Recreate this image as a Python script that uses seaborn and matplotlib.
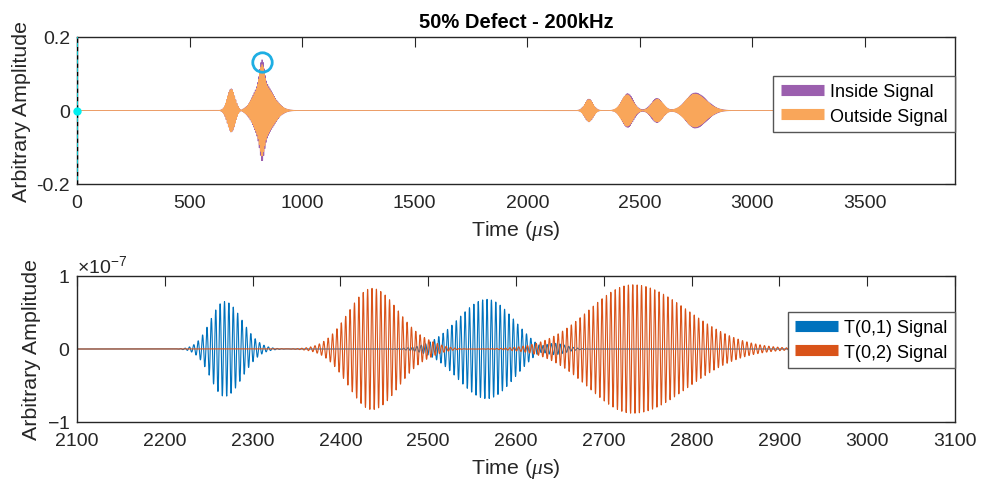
import numpy as np
import pandas as pd
import matplotlib
matplotlib.use("Agg")
import matplotlib.pyplot as plt
from matplotlib.lines import Line2D
from matplotlib.ticker import ScalarFormatter
import seaborn as sns

# ---------------- data ----------------
title = "50% Defect - 200kHz"
carrier_khz = 200.0

# Top panel: wave packets (centre in us, amplitude, left width, right width)
out_centres = [685, 822, 822, 2274, 2444, 2578, 2744]
out_amps = [0.058, 0.050, 0.075, 0.030, 0.043, 0.031, 0.045]
out_wl = [17, 10, 35, 18, 25, 25, 40]
out_wr = [17, 10, 45, 18, 25, 25, 50]

in_centres = [685, 822, 822, 2274, 2446, 2576, 2746]
in_amps = [0.059, 0.058, 0.080, 0.031, 0.046, 0.033, 0.048]
in_wl = [17, 10, 35, 18, 25, 25, 40]
in_wr = [17, 10, 45, 18, 25, 25, 50]

top_xticks = [0, 500, 1000, 1500, 2000, 2500, 3000, 3500]
top_yticks = [-0.2, 0, 0.2]
peak_marker = (822, 0.131)

# Bottom panel (amplitudes in units of 1e-7)
t01_centres = [2268, 2567, 2640]
t01_amps = [0.65, 0.68, 0.10]
t01_wl = [16, 33, 15]
t01_wr = [20, 30, 15]

t02_centres = [2436, 2733, 2500]
t02_amps = [0.83, 0.88, 0.06]
t02_wl = [27, 50, 15]
t02_wr = [31, 62, 15]

bot_xticks = [2100, 2200, 2300, 2400, 2500, 2600, 2700, 2800, 2900, 3000, 3100]
bot_yticks = [-1e-7, 0, 1e-7]


def packets(t, centres, amps, wl, wr, scale=1.0):
    y = np.zeros_like(t)
    f = carrier_khz * 1e-3  # cycles per microsecond
    for c, a, l, r in zip(centres, amps, wl, wr):
        w = np.where(t < c, l, r)
        env = a * np.exp(-((t - c) ** 2) / (2.0 * w ** 2))
        y += env * np.cos(2 * np.pi * f * (t - c))
    return y * scale


t_top = np.arange(0, 3900.0, 0.1)
y_out = packets(t_top, out_centres, out_amps, out_wl, out_wr)
y_in = packets(t_top, in_centres, in_amps, in_wl, in_wr)

t_bot = np.arange(2100, 3100.0, 0.05)
y_t01 = packets(t_bot, t01_centres, t01_amps, t01_wl, t01_wr, 1e-7)
y_t02 = packets(t_bot, t02_centres, t02_amps, t02_wl, t02_wr, 1e-7)

# ---------------- style ----------------
sns.set_theme(style="white")
plt.rcParams["font.family"] = ["Liberation Sans", "DejaVu Sans"]
plt.rcParams["axes.unicode_minus"] = False
plt.rcParams["mathtext.fontset"] = "custom"
plt.rcParams["mathtext.rm"] = "Liberation Sans"
plt.rcParams["mathtext.it"] = "Liberation Serif:italic"
txt = "#262626"
FS = 14
LFS = 15.4

purple = "#9B5FAE"
orange_light = "#F9A65A"
blue = "#0072BD"
orange = "#D95319"
cyan = "#1EAEE3"

fig = plt.figure(figsize=(9.82, 4.81), dpi=100)
ax1 = fig.add_axes([77 / 982, 1 - 185 / 481, 878 / 982, 147 / 481])
ax2 = fig.add_axes([77 / 982, 1 - 423 / 481, 878 / 982, 146 / 481])

# ---- top panel ----
sns.lineplot(x=t_top, y=y_in, ax=ax1, color=purple, lw=0.6, estimator=None, sort=False)
sns.lineplot(x=t_top, y=y_out, ax=ax1, color=orange_light, lw=0.6, estimator=None, sort=False)
ax1.axvline(0, color="#00E5EE", lw=1.2, zorder=5)
ax1.axvline(0, color="black", lw=1.0, ls=(0, (3, 3)), zorder=6)
ax1.plot([0], [0], "o", color="#00F0F0", ms=5, zorder=7, clip_on=False)
ax1.plot([peak_marker[0]], [peak_marker[1]], "o", mfc="none", mec=cyan, mew=2, ms=14, zorder=7)
ax1.set_xlim(0, 3900)
ax1.set_ylim(-0.2, 0.2)
ax1.set_xticks(top_xticks)
ax1.set_yticks(top_yticks)
ax1.set_yticklabels(["-0.2", "0", "0.2"])
ax1.set_title(title, fontsize=14.5, fontweight="bold", color="black", pad=7)
ax1.set_xlabel(r"Time ($\mu$s)", fontsize=LFS, color=txt, labelpad=5)
ax1.set_ylabel("Arbitrary Amplitude", fontsize=LFS, color=txt, labelpad=4)


def make_legend(ax, colors, labels, anchor_y):
    hs = [Line2D([], [], color=c, lw=8, solid_capstyle="butt") for c in colors]
    leg = ax.legend(hs, labels, loc="upper right", bbox_to_anchor=(1.0, anchor_y),
                    fontsize=13, frameon=True, fancybox=False, handlelength=2.4,
                    handletextpad=0.35, borderpad=0.4, labelspacing=0.42,
                    borderaxespad=0.0)
    fr = leg.get_frame()
    fr.set_edgecolor("#555555")
    fr.set_linewidth(1.0)
    fr.set_alpha(1.0)
    for t in leg.get_texts():
        t.set_color("black")
    return leg


make_legend(ax1, [purple, orange_light], ["Inside Signal", "Outside Signal"], 1 - 39 / 147)

# ---- bottom panel ----
sns.lineplot(x=t_bot, y=y_t01, ax=ax2, color=blue, lw=0.8, estimator=None, sort=False)
sns.lineplot(x=t_bot, y=y_t02, ax=ax2, color=orange, lw=0.8, estimator=None, sort=False)
ax2.set_xlim(2100, 3100)
ax2.set_ylim(-1e-7, 1e-7)
ax2.set_xticks(bot_xticks)
ax2.set_yticks(bot_yticks)
fmt = ScalarFormatter(useMathText=True)
fmt.set_powerlimits((0, 0))
ax2.yaxis.set_major_formatter(fmt)
ax2.yaxis.get_offset_text().set_fontsize(FS)
ax2.yaxis.get_offset_text().set_color(txt)
ax2.set_xlabel(r"Time ($\mu$s)", fontsize=LFS, color=txt, labelpad=5)
ax2.set_ylabel("Arbitrary Amplitude", fontsize=LFS, color=txt, labelpad=4)
make_legend(ax2, [blue, orange], ["T(0,1) Signal", "T(0,2) Signal"], 1 - 36 / 146)

for ax in (ax1, ax2):
    for s in ax.spines.values():
        s.set_visible(True)
        s.set_color(txt)
        s.set_linewidth(1.0)
    ax.tick_params(axis="both", direction="in", length=7, width=0.8, colors=txt,
                   labelsize=FS, top=True, right=True)
    ax.tick_params(axis="x", pad=7)
    ax.tick_params(axis="y", pad=5)
    ax.grid(False)
    ax.set_facecolor("white")

fig.savefig("out.png", dpi=100, facecolor="white")
